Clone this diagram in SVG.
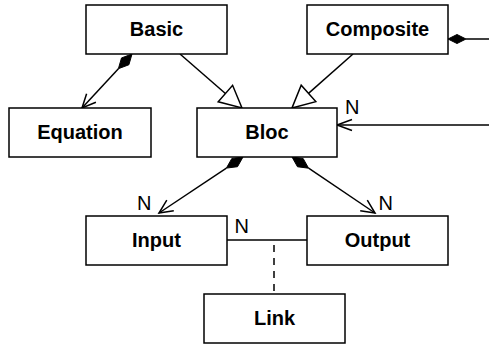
<svg xmlns="http://www.w3.org/2000/svg" width="489" height="344" viewBox="0 0 489 344">
<style>
.box{fill:#fff;stroke:#000;stroke-width:1.5}
.lbl{font-family:"Liberation Sans",Arial,sans-serif;font-weight:bold;font-size:20px;text-anchor:middle;fill:#000}
.n{font-family:"Liberation Sans",Arial,sans-serif;font-size:20px;fill:#000}
.ln{fill:none;stroke:#000;stroke-width:1.5}
.dia{fill:#000;stroke:#000;stroke-width:1}
.tri{fill:#fff;stroke:#000;stroke-width:1.5}
</style>
<rect width="489" height="344" fill="#fff"/>
<g id="connectors">
  <!-- Basic composes Equation -->
  <line class="ln" x1="118.4" y1="68.7" x2="82" y2="108"/>
  <polygon class="dia" points="132,54 128.9,64.75 118.4,68.7 121.5,57.95"/>
  <polyline class="ln" points="95.9,102.3 82,108 86.6,93.7"/>
  <!-- Basic inherits Bloc -->
  <line class="ln" x1="180" y1="54" x2="225.4" y2="93.55"/>
  <polygon class="tri" points="242,108 232.6,85.3 218.2,101.8"/>
  <!-- Composite inherits Bloc -->
  <line class="ln" x1="353" y1="54" x2="308.5" y2="93.4"/>
  <polygon class="tri" points="292,108 315.8,101.6 301.2,85.2"/>
  <!-- Composite composes Bloc (N) -->
  <line class="ln" x1="466" y1="39" x2="489" y2="39"/>
  <polygon class="dia" points="448,39 457,34.5 466,39 457,43.5"/>
  <line class="ln" x1="337" y1="125" x2="489" y2="125"/>
  <polyline class="ln" points="352,119.5 337,125 352,130.5"/>
  <text class="n" x="345" y="113.5">N</text>
  <!-- Bloc composes Input -->
  <line class="ln" x1="226.4" y1="168.1" x2="159" y2="213"/>
  <polygon class="dia" points="243,157 237.5,166.7 226.4,168.1 231.9,158.4"/>
  <polyline class="ln" points="173.8,210.7 159,213 166.8,200.2"/>
  <text class="n" x="137" y="210">N</text>
  <!-- Bloc composes Output -->
  <line class="ln" x1="308.6" y1="168.2" x2="375" y2="213"/>
  <polygon class="dia" points="292,157 303.1,158.45 308.6,168.2 297.5,166.75"/>
  <polyline class="ln" points="367.3,200.1 375,213 360.2,210.7"/>
  <text class="n" x="378.5" y="210">N</text>
  <!-- Input - Output association -->
  <line class="ln" x1="227" y1="240" x2="307" y2="240"/>
  <text class="n" x="234.5" y="233.3">N</text>
  <line class="ln" x1="274" y1="245" x2="274" y2="294" stroke-dasharray="7,6"/>
</g>
<g id="basic"><rect class="box" x="86" y="5" width="141" height="49"/><text class="lbl" x="156.5" y="36">Basic</text></g>
<g id="composite"><rect class="box" x="307" y="5" width="141" height="49"/><text class="lbl" x="377.5" y="36">Composite</text></g>
<g id="equation"><rect class="box" x="9" y="108" width="142" height="49"/><text class="lbl" x="80" y="139">Equation</text></g>
<g id="bloc"><rect class="box" x="197" y="108" width="140" height="49"/><text class="lbl" x="267" y="139">Bloc</text></g>
<g id="input"><rect class="box" x="86" y="216" width="141" height="49"/><text class="lbl" x="156.5" y="247">Input</text></g>
<g id="output"><rect class="box" x="307" y="216" width="141" height="49"/><text class="lbl" x="377.5" y="247">Output</text></g>
<g id="link"><rect class="box" x="204" y="294" width="141" height="49"/><text class="lbl" x="274.5" y="325">Link</text></g>
</svg>
